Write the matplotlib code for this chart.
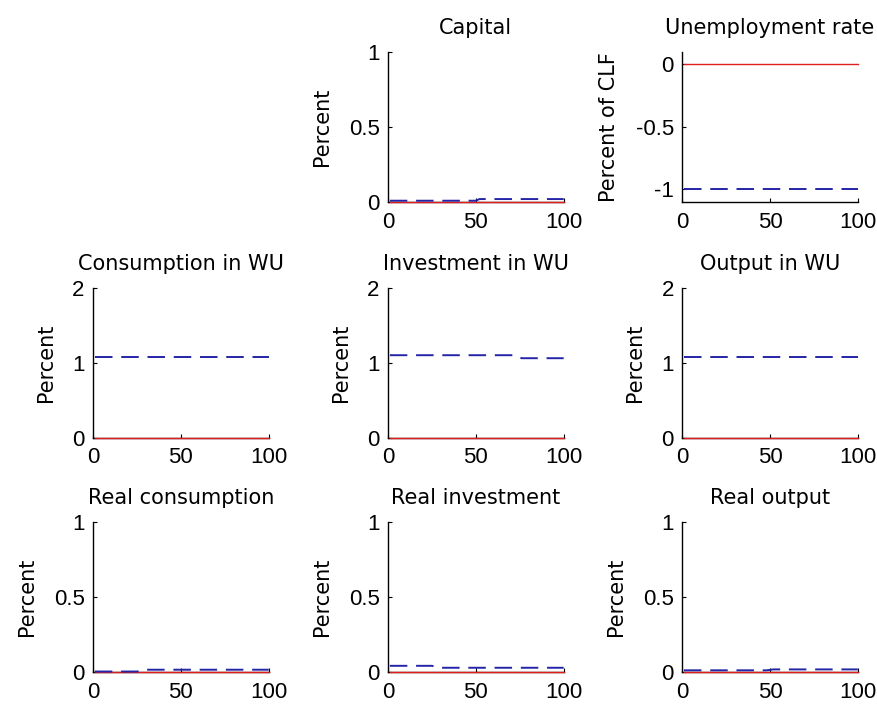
import numpy as np
import matplotlib
matplotlib.use("Agg")
from matplotlib import pyplot as plt

plt.rcParams['font.family'] = ['DejaVu Sans']

# panel titles and y labels (first slot of the 3x3 grid is empty)
titles = ["Capital", "Unemployment rate",
          "Consumption in WU", "Investment in WU", "Output in WU",
          "Real consumption", "Real investment", "Real output"]
ylabels = ["Percent", "Percent of CLF",
           "Percent", "Percent", "Percent",
           "Percent", "Percent", "Percent"]
ylims = [(0, 1), (-1.1, 0.1), (0, 2), (0, 2), (0, 2), (0, 1), (0, 1), (0, 1)]
yticks = [[0, 0.5, 1], [-1, -0.5, 0], [0, 1, 2], [0, 1, 2], [0, 1, 2],
          [0, 0.5, 1], [0, 0.5, 1], [0, 0.5, 1]]
ytick_labels = [["0", "0.5", "1"], ["-1", "-0.5", "0"], ["0", "1", "2"],
                ["0", "1", "2"], ["0", "1", "2"],
                ["0", "0.5", "1"], ["0", "0.5", "1"], ["0", "0.5", "1"]]

# red solid line: baseline response (zero everywhere)
red_x = [1, 100]
red_y = [0, 0]

blue_x = [
    [1, 50, 52, 100],          # capital
    [1, 100],                  # unemployment
    [1, 100],                  # consumption WU
    [1, 73, 76, 100],          # investment WU
    [1, 100],                  # output WU
    [1, 25, 30, 100],          # real consumption
    [1, 25, 29, 100],          # real investment
    [1, 48, 52, 100],          # real output
]
blue_y = [
    [0.008, 0.008, 0.019, 0.019],
    [-1.0, -1.0],
    [1.07, 1.07],
    [1.10, 1.10, 1.06, 1.06],
    [1.07, 1.07],
    [0.004, 0.004, 0.016, 0.016],
    [0.042, 0.042, 0.029, 0.029],
    [0.012, 0.012, 0.018, 0.018],
]

tick_font = ['Liberation Sans Narrow', 'Liberation Sans', 'DejaVu Sans']

fig = plt.figure(figsize=(8.78, 7.06), dpi=100)

lefts = [0.106, 0.442, 0.777]
bottoms = [0.714, 0.380, 0.048]
w, h = 0.200, 0.2125

slots = [(0, 1), (0, 2), (1, 0), (1, 1), (1, 2), (2, 0), (2, 1), (2, 2)]

for k, (r, c) in enumerate(slots):
    ax = fig.add_axes([lefts[c], bottoms[r], w, h])
    ax.plot(red_x, red_y, color='#e01e1e', linewidth=1.0, zorder=3,
            clip_on=False)
    ax.plot(blue_x[k], blue_y[k], color='#2424a8', linewidth=1.4,
            dashes=(9, 4.5), zorder=4, clip_on=False)
    ax.set_xlim(0, 100)
    ax.set_ylim(*ylims[k])
    ax.set_xticks([0, 50, 100])
    ax.set_xticklabels(["0", "50", "100"], family=tick_font, fontsize=16)
    ax.set_yticks(yticks[k])
    ax.set_yticklabels(ytick_labels[k], family=tick_font, fontsize=16)
    ax.spines['top'].set_visible(False)
    ax.spines['right'].set_visible(False)
    ax.spines['left'].set_linewidth(1.0)
    ax.spines['bottom'].set_linewidth(1.0)
    ax.tick_params(direction='in', length=3, width=0.8)
    ax.tick_params(axis='x', pad=7)
    ax.tick_params(axis='y', pad=6)
    ax.set_title(titles[k], fontsize=15, pad=13)
    ax.set_ylabel(ylabels[k], fontsize=15, labelpad=12)

plt.savefig("out.png", dpi=100)
